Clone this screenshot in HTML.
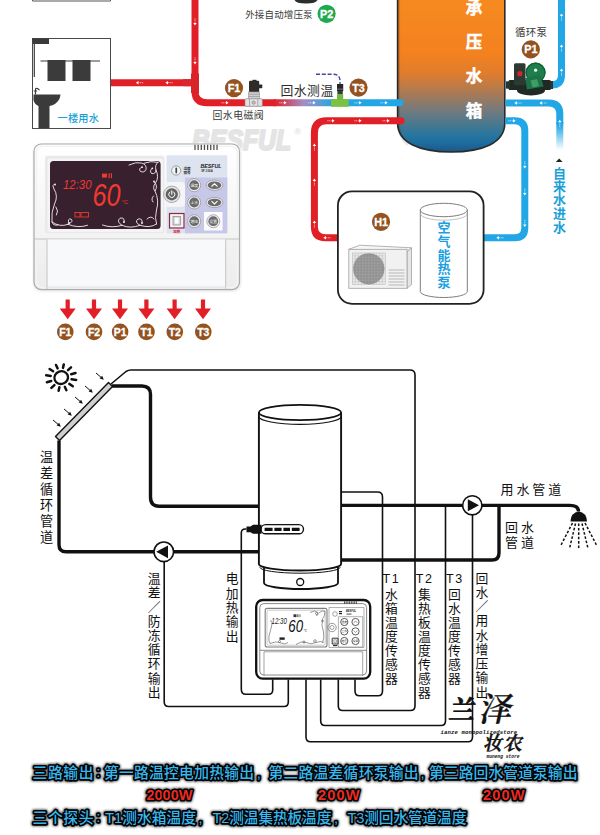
<!DOCTYPE html>
<html lang="zh-CN"><head><meta charset="utf-8"><title>太阳能控制器接线示意图</title>
<style>
html,body{margin:0;padding:0;background:#fff;}
body{width:600px;height:835px;overflow:hidden;font-family:"Liberation Sans","Noto Sans CJK SC",sans-serif;}
svg{display:block;}
svg text{font-family:"Liberation Sans","Noto Sans CJK SC",sans-serif;}
.serif{font-family:"Liberation Serif","Noto Serif CJK SC",serif;}
svg text.lcd{font-family:"Liberation Sans",sans-serif;}
</style></head><body>
<svg width="600" height="835" viewBox="0 0 600 835">
<defs>
<linearGradient id="tankG" gradientUnits="userSpaceOnUse" x1="0" y1="0" x2="0" y2="152">
<stop offset="0.000" stop-color="#f68a1f"/><stop offset="0.362" stop-color="#f3811f"/><stop offset="0.493" stop-color="#dd7c2f"/><stop offset="0.625" stop-color="#a47a5a"/><stop offset="0.737" stop-color="#6e7a80"/><stop offset="0.822" stop-color="#47788f"/><stop offset="0.888" stop-color="#27769f"/><stop offset="0.941" stop-color="#1e6c9f"/><stop offset="1.000" stop-color="#1d5684"/>
</linearGradient>
<linearGradient id="rbG" gradientUnits="userSpaceOnUse" x1="274" y1="0" x2="333" y2="0">
<stop offset="0" stop-color="#e11f26"/><stop offset="0.5" stop-color="#a58cc4"/><stop offset="1" stop-color="#22a7e6"/>
</linearGradient>
<linearGradient id="fadeG" gradientUnits="userSpaceOnUse" x1="0" y1="125" x2="0" y2="150">
<stop offset="0" stop-color="#22a7e6"/><stop offset="1" stop-color="#ffffff"/>
</linearGradient>
<linearGradient id="ctlG" x1="0" y1="0" x2="0" y2="1">
<stop offset="0" stop-color="#ffffff"/><stop offset="1" stop-color="#ececec"/>
</linearGradient>
<radialGradient id="btnG" cx="0.5" cy="0.4" r="0.6">
<stop offset="0" stop-color="#9a9a9a"/><stop offset="1" stop-color="#555"/>
</radialGradient>
<filter id="glow" x="-5%" y="-40%" width="110%" height="180%"><feGaussianBlur stdDeviation="0.9"/></filter>
</defs>
<rect width="600" height="835" fill="#fff"/>

<text x="192" y="149.6" font-size="29.5" font-weight="700" font-style="italic" fill="#e4e4e4" stroke="#e4e4e4" stroke-width="2.2" stroke-linejoin="round" textLength="99" lengthAdjust="spacingAndGlyphs">BESFUL</text>
<text x="294.2" y="134.8" font-size="9" font-weight="700" fill="#e2e2e2">®</text>
<path d="M32.5 0V1H110.5V0" stroke="#555" stroke-width="1" fill="none"/>
<path d="M397.6 -5V123C397.6 143 420 152 451.2 152C482.5 152 504.8 143 504.8 123V-5Z" fill="url(#tankG)" stroke="#2b2b2b" stroke-width="1.6"/>
<path d="M398.6 -5V123C398.6 134 402 140 408 144.5" fill="none" stroke="#000" stroke-opacity="0.10" stroke-width="3"/>
<g fill="none" stroke-width="7" stroke-linejoin="round">
<path d="M110 82.7H195" stroke="#e11f26"/>
<path d="M195 -2V91Q195 102.8 207 102.8H276" stroke="#e11f26"/>
<path d="M274 102.8H334" stroke="url(#rbG)"/>
<path d="M333 102.8H400" stroke="#22a7e6" stroke-linecap="round"/>
<path d="M401 120.8H326.5Q314.4 120.8 314.4 132.8V226.8Q314.4 237.8 325.4 237.8H338" stroke="#e11f26" stroke-linecap="round"/>
<path d="M561.5 -2V75Q561.5 85 551.5 85H505.6" stroke="#22a7e6"/>
<path d="M505.6 103H549Q559.8 103 559.8 114V124" stroke="#22a7e6"/>
<path d="M559.8 122V152" stroke="url(#fadeG)"/>
<path d="M505.6 120.8H514.8Q524.8 120.8 524.8 130.8V227.8Q524.8 237.8 514.8 237.8H484" stroke="#22a7e6"/>
</g>
<rect x="191" y="73.6" width="8" height="19.4" fill="#d9232b"/>
<rect x="183" y="79.2" width="8" height="7" fill="#dc262d"/>
<path d="M135.9 82.7L138.5 81.0V84.4Z" fill="#fff"/><path d="M143.1 82.7H138.70000000000002" stroke="#fff" stroke-width="0.8" stroke-dasharray="1.1 0.7" opacity="0.9" fill="none"/>
<path d="M165.4 82.7L168.0 81.0V84.4Z" fill="#fff"/><path d="M172.6 82.7H168.20000000000002" stroke="#fff" stroke-width="0.8" stroke-dasharray="1.1 0.7" opacity="0.9" fill="none"/>
<path d="M195 25.6L193.3 23.0H196.7Z" fill="#fff"/><path d="M195 18.4V22.8" stroke="#fff" stroke-width="0.8" stroke-dasharray="1.1 0.7" opacity="0.9" fill="none"/>
<path d="M195 64.6L193.3 61.99999999999999H196.7Z" fill="#fff"/><path d="M195 57.4V61.8" stroke="#fff" stroke-width="0.8" stroke-dasharray="1.1 0.7" opacity="0.9" fill="none"/>
<path d="M228.6 102.8L226.0 101.1V104.5Z" fill="#fff"/><path d="M221.4 102.8H225.79999999999998" stroke="#fff" stroke-width="0.8" stroke-dasharray="1.1 0.7" opacity="0.9" fill="none"/>
<path d="M286.6 102.8L284.0 101.1V104.5Z" fill="#fff"/><path d="M279.4 102.8H283.8" stroke="#fff" stroke-width="0.8" stroke-dasharray="1.1 0.7" opacity="0.9" fill="none"/>
<path d="M315.6 102.8L313.0 101.1V104.5Z" fill="#fff"/><path d="M308.4 102.8H312.8" stroke="#fff" stroke-width="0.8" stroke-dasharray="1.1 0.7" opacity="0.9" fill="none"/>
<path d="M361.6 102.8L359.0 101.1V104.5Z" fill="#fff"/><path d="M354.4 102.8H358.8" stroke="#fff" stroke-width="0.8" stroke-dasharray="1.1 0.7" opacity="0.9" fill="none"/>
<path d="M387.6 102.8L385.0 101.1V104.5Z" fill="#fff"/><path d="M380.4 102.8H384.8" stroke="#fff" stroke-width="0.8" stroke-dasharray="1.1 0.7" opacity="0.9" fill="none"/>
<path d="M334.6 120.8L332.0 119.1V122.5Z" fill="#fff"/><path d="M327.4 120.8H331.8" stroke="#fff" stroke-width="0.8" stroke-dasharray="1.1 0.7" opacity="0.9" fill="none"/>
<path d="M361.6 120.8L359.0 119.1V122.5Z" fill="#fff"/><path d="M354.4 120.8H358.8" stroke="#fff" stroke-width="0.8" stroke-dasharray="1.1 0.7" opacity="0.9" fill="none"/>
<path d="M389.6 120.8L387.0 119.1V122.5Z" fill="#fff"/><path d="M382.4 120.8H386.8" stroke="#fff" stroke-width="0.8" stroke-dasharray="1.1 0.7" opacity="0.9" fill="none"/>
<path d="M314.4 143.4L312.7 146.0H316.09999999999997Z" fill="#fff"/><path d="M314.4 150.6V146.20000000000002" stroke="#fff" stroke-width="0.8" stroke-dasharray="1.1 0.7" opacity="0.9" fill="none"/>
<path d="M314.4 178.4L312.7 181.0H316.09999999999997Z" fill="#fff"/><path d="M314.4 185.6V181.20000000000002" stroke="#fff" stroke-width="0.8" stroke-dasharray="1.1 0.7" opacity="0.9" fill="none"/>
<path d="M314.4 220.4L312.7 223.0H316.09999999999997Z" fill="#fff"/><path d="M314.4 227.6V223.20000000000002" stroke="#fff" stroke-width="0.8" stroke-dasharray="1.1 0.7" opacity="0.9" fill="none"/>
<path d="M323.4 237.8L326.0 236.10000000000002V239.5Z" fill="#fff"/><path d="M330.6 237.8H326.2" stroke="#fff" stroke-width="0.8" stroke-dasharray="1.1 0.7" opacity="0.9" fill="none"/>
<path d="M561.5 13.4L559.8 16.0H563.2Z" fill="#fff"/><path d="M561.5 20.6V16.2" stroke="#fff" stroke-width="0.8" stroke-dasharray="1.1 0.7" opacity="0.9" fill="none"/>
<path d="M561.5 44.4L559.8 47.0H563.2Z" fill="#fff"/><path d="M561.5 51.6V47.199999999999996" stroke="#fff" stroke-width="0.8" stroke-dasharray="1.1 0.7" opacity="0.9" fill="none"/>
<path d="M561.5 68.4L559.8 71.0H563.2Z" fill="#fff"/><path d="M561.5 75.6V71.2" stroke="#fff" stroke-width="0.8" stroke-dasharray="1.1 0.7" opacity="0.9" fill="none"/>
<path d="M514.4 103L517.0 101.3V104.7Z" fill="#fff"/><path d="M521.6 103H517.1999999999999" stroke="#fff" stroke-width="0.8" stroke-dasharray="1.1 0.7" opacity="0.9" fill="none"/>
<path d="M539.4 103L542.0 101.3V104.7Z" fill="#fff"/><path d="M546.6 103H542.1999999999999" stroke="#fff" stroke-width="0.8" stroke-dasharray="1.1 0.7" opacity="0.9" fill="none"/>
<path d="M559.8 119.7L558.0999999999999 122.3H561.5Z" fill="#fff"/><path d="M559.8 126.89999999999999V122.5" stroke="#fff" stroke-width="0.8" stroke-dasharray="1.1 0.7" opacity="0.9" fill="none"/>
<path d="M515.6 120.8L513.0 119.1V122.5Z" fill="#fff"/><path d="M508.4 120.8H512.8000000000001" stroke="#fff" stroke-width="0.8" stroke-dasharray="1.1 0.7" opacity="0.9" fill="none"/>
<path d="M524.8 168.6L523.0999999999999 166.0H526.5Z" fill="#fff"/><path d="M524.8 161.4V165.79999999999998" stroke="#fff" stroke-width="0.8" stroke-dasharray="1.1 0.7" opacity="0.9" fill="none"/>
<path d="M524.8 195.6L523.0999999999999 193.0H526.5Z" fill="#fff"/><path d="M524.8 188.4V192.79999999999998" stroke="#fff" stroke-width="0.8" stroke-dasharray="1.1 0.7" opacity="0.9" fill="none"/>
<path d="M524.8 227.1L523.0999999999999 224.5H526.5Z" fill="#fff"/><path d="M524.8 219.9V224.29999999999998" stroke="#fff" stroke-width="0.8" stroke-dasharray="1.1 0.7" opacity="0.9" fill="none"/>
<path d="M496.4 237.8L499.0 236.10000000000002V239.5Z" fill="#fff"/><path d="M503.6 237.8H499.2" stroke="#fff" stroke-width="0.8" stroke-dasharray="1.1 0.7" opacity="0.9" fill="none"/>
<text font-size="16.5" fill="#fff" font-weight="700" text-anchor="middle" stroke="#fff" stroke-width="0.5"><tspan x="474" y="14.3">承</tspan><tspan x="474" y="48.4">压</tspan><tspan x="474" y="82">水</tspan><tspan x="474" y="117.3">箱</tspan></text>
<g>
<rect x="32.5" y="38.5" width="78" height="90" fill="#fff" stroke="#4a4a4a" stroke-width="1"/>
<rect x="32.5" y="38.5" width="16.5" height="5.5" fill="#3b3b3b"/>
<path d="M34.3 44V77" stroke="#3b3b3b" stroke-width="1.2"/>
<path d="M40.5 61H100" stroke="#3b3b3b" stroke-width="1.2"/>
<rect x="47.5" y="60" width="18" height="21" fill="#3b3b3b"/>
<rect x="72.5" y="60" width="18" height="21" fill="#3b3b3b"/>
<path d="M33.5 94.5H60.5C60 101 55 105 49.5 106V128H38.5V106C36 105 34 103 33.5 100Z" fill="#3b3b3b"/>
<path d="M35.5 94.5V89.5Q35.5 88 37.5 88.5L39.5 90" stroke="#3b3b3b" stroke-width="1.2" fill="none"/>
<path d="M33.8 91H37" stroke="#3b3b3b" stroke-width="1"/>
<text x="57.5" y="121.6" font-size="10.2" font-weight="500" fill="#1b9fd8" letter-spacing="0.2">一楼用水</text>
</g>
<path d="M294.5 0Q296 3.6 306 3.6Q316 3.6 317.5 0Z" fill="#2a2f2c"/>
<text x="245.2" y="17.7" font-size="9.5" fill="#3a3a3a" letter-spacing="0.15">外接自动增压泵</text>
<circle cx="326.6" cy="13.8" r="9.1" fill="#1fa84c"/>
<text x="326.6" y="17.7" font-size="10.8" font-weight="700" fill="#fff" stroke="#fff" stroke-width="0.3" text-anchor="middle" letter-spacing="-0.1">P2</text>
<circle cx="234" cy="88.1" r="9.1" fill="#93521f"/>
<text x="234" y="92.0" font-size="10.8" font-weight="700" fill="#fff" stroke="#fff" stroke-width="0.3" text-anchor="middle" letter-spacing="-0.1">F1</text>
<g>
<rect x="249" y="80.7" width="10.2" height="11.5" rx="1.3" fill="#2f2b29"/>
<rect x="252.5" y="79.8" width="4" height="2" fill="#2f2b29"/>
<rect x="258.5" y="84.6" width="3.8" height="3.6" rx="0.6" fill="#2f2b29"/>
<rect x="248.3" y="92" width="11.4" height="7" fill="#cfcfcf" stroke="#9a9a9a" stroke-width="0.6"/>
<path d="M248.5 94.3H259.5M248.5 96.5H259.5" stroke="#8c8c8c" stroke-width="0.6"/>
<rect x="245" y="98.7" width="17.3" height="7.6" rx="1" fill="#e2e2e2" stroke="#8f8f8f" stroke-width="0.7"/>
<path d="M249.5 99V106M257.8 99V106" stroke="#8f8f8f" stroke-width="0.7"/>
<circle cx="253.6" cy="102.6" r="1.7" fill="#bdbdbd" stroke="#777" stroke-width="0.5"/>
</g>
<text x="212.5" y="119.1" font-size="9.9" fill="#3a3a3a" letter-spacing="0.45">回水电磁阀</text>
<text x="280.5" y="94.6" font-size="12.8" fill="#2a2a2a" letter-spacing="0.5">回水测温</text>
<path d="M316 74.2H333Q340 74.2 340 81V84" stroke="#4d429c" stroke-width="1.4" stroke-dasharray="4 1.8" fill="none"/>
<rect x="337" y="84" width="6.2" height="7" fill="#262626"/><rect x="337" y="88.6" width="6.2" height="1" fill="#777"/>
<rect x="337.4" y="91" width="5.4" height="3.6" fill="#3a3a3a"/>
<path d="M331 99.2H348.7V106.8H331Z" fill="#7cc142"/>
<rect x="337" y="94.4" width="6.2" height="5.2" fill="#72ba3a"/>
<circle cx="358.5" cy="87.6" r="9.1" fill="#93521f"/>
<text x="358.5" y="91.5" font-size="10.8" font-weight="700" fill="#fff" stroke="#fff" stroke-width="0.3" text-anchor="middle" letter-spacing="-0.1">T3</text>
<text x="515" y="35.6" font-size="10.5" fill="#3a3a3a" letter-spacing="0.2">循环泵</text>
<circle cx="530.8" cy="49.4" r="9.1" fill="#93521f"/>
<text x="530.8" y="53.3" font-size="10.8" font-weight="700" fill="#fff" stroke="#fff" stroke-width="0.3" text-anchor="middle" letter-spacing="-0.1">P1</text>
<g>
<rect x="508.5" y="80" width="42.5" height="10" rx="1.5" fill="#1f2a25"/>
<rect x="506" y="81.5" width="4" height="7" fill="#2a332e"/><rect x="550" y="81" width="3" height="8" fill="#2a332e"/>
<ellipse cx="531" cy="90.5" rx="14" ry="5" fill="#1f2a25"/>
<rect x="514" y="63.2" width="11.5" height="22" rx="1.5" fill="#2c3a33"/>
<circle cx="535.6" cy="72.6" r="10" fill="#1f7f4c"/>
<circle cx="535.6" cy="72.6" r="9.4" fill="none" stroke="#14603a" stroke-width="1.2"/>
<path d="M525 78L540 74.5L543.5 86.5L527 89.5Z" fill="#1c7446"/>
<path d="M530.5 80.5L537 79L539 86L532.5 87.5Z" fill="#3f9b68"/>
<circle cx="535.6" cy="70.2" r="1.6" fill="#eef4ee"/>
<circle cx="519.8" cy="73.7" r="2.6" fill="#d5252c"/>
</g>
<path d="M555.8 161.9L559.2 158.6L562.6 161.9Z" fill="#222"/>
<text font-size="13" fill="#1b9fd8" font-weight="700" text-anchor="middle" ><tspan x="559.6" y="178.2">自</tspan><tspan x="559.6" y="191">来</tspan><tspan x="559.6" y="203.8">水</tspan><tspan x="559.6" y="217.6">进</tspan><tspan x="559.6" y="232">水</tspan></text>
<rect x="337.9" y="191.4" width="145.7" height="112.4" rx="14" fill="#fff" stroke="#222" stroke-width="1.8"/>
<circle cx="381" cy="221.8" r="9.1" fill="#93521f"/>
<text x="381" y="225.7" font-size="10.8" font-weight="700" fill="#fff" stroke="#fff" stroke-width="0.3" text-anchor="middle" letter-spacing="-0.1">H1</text>
<g stroke="#a2a2a2" stroke-width="0.8" fill="#fff">
<path d="M348.8 249.3L359.8 245.2L411.5 247.8L407 251.8Z" fill="#f6f6f6"/>
<path d="M407 251.8L411.5 247.8V284.5L407 288.3Z" fill="#e6e6e6"/>
<rect x="348.8" y="249.3" width="58.2" height="39" fill="#f1f1f1"/>
<rect x="352.3" y="253" width="33" height="31.5" fill="#e9e9e9" stroke="#b5b5b5" stroke-width="0.5"/>
</g>
<g stroke="#b9b9b9" stroke-width="0.45">
<path d="M355.3 253V284.5"/>
<path d="M358.3 253V284.5"/>
<path d="M361.3 253V284.5"/>
<path d="M364.3 253V284.5"/>
<path d="M367.3 253V284.5"/>
<path d="M370.3 253V284.5"/>
<path d="M373.3 253V284.5"/>
<path d="M376.3 253V284.5"/>
<path d="M379.3 253V284.5"/>
<path d="M382.3 253V284.5"/>
<path d="M352.3 255.9H385.3"/>
<path d="M352.3 258.7H385.3"/>
<path d="M352.3 261.6H385.3"/>
<path d="M352.3 264.4H385.3"/>
<path d="M352.3 267.3H385.3"/>
<path d="M352.3 270.2H385.3"/>
<path d="M352.3 273.0H385.3"/>
<path d="M352.3 275.9H385.3"/>
<path d="M352.3 278.7H385.3"/>
<path d="M352.3 281.6H385.3"/>
</g>
<circle cx="368.8" cy="268.8" r="15.6" fill="#8b8b8b" opacity="0.92"/>
<g stroke="#a9a9a9" stroke-width="0.45">
<path d="M356.8 258.8V278.8"/>
<path d="M358.2 257.4H379.4"/>
<path d="M359.8 256.1V281.5"/>
<path d="M355.8 260.2H381.8"/>
<path d="M362.8 254.4V283.2"/>
<path d="M354.3 263.1H383.3"/>
<path d="M365.8 253.5V284.1"/>
<path d="M353.5 265.9H384.1"/>
<path d="M368.8 253.2V284.4"/>
<path d="M353.2 268.8H384.4"/>
<path d="M371.8 253.5V284.1"/>
<path d="M353.5 271.7H384.1"/>
<path d="M374.8 254.4V283.2"/>
<path d="M354.3 274.5H383.3"/>
<path d="M377.8 256.1V281.5"/>
<path d="M355.8 277.4H381.8"/>
<path d="M380.8 258.8V278.8"/>
<path d="M358.2 280.2H379.4"/>
</g>
<g stroke="#9d9d9d" stroke-width="0.7">
<path d="M388.5 270H404.5"/>
<path d="M388.5 273H404.5"/>
<path d="M388.5 276H404.5"/>
<path d="M388.5 279H404.5"/>
<path d="M388.5 282H404.5"/>
<path d="M388.5 285H404.5"/>
</g>
<path d="M420.3 210V291.5A23.5 6 0 0 0 467.3 291.5V210" fill="#fff" stroke="#7d7d7d" stroke-width="1"/>
<ellipse cx="443.8" cy="210" rx="23.5" ry="6.7" fill="#fff" stroke="#7d7d7d" stroke-width="1"/>
<path d="M420.3 213.5A23.5 6.7 0 0 0 467.3 213.5" fill="none" stroke="#a5a5a5" stroke-width="0.7"/>
<text font-size="13" fill="#1a9fe0" font-weight="700" text-anchor="middle" ><tspan x="443.9" y="232.2">空</tspan><tspan x="443.9" y="246">气</tspan><tspan x="443.9" y="259.8">能</tspan><tspan x="443.9" y="273.4">热</tspan><tspan x="443.9" y="287.4">泵</tspan></text>
<g>
<rect x="32.5" y="143" width="209.5" height="149.5" rx="9" fill="#f0f0f0" opacity="0.8"/><rect x="34" y="144" width="205.5" height="145.7" rx="7.5" fill="url(#ctlG)" stroke="#ababab" stroke-width="1.2"/>
<rect x="36.3" y="146.3" width="201" height="141.2" rx="6" fill="none" stroke="#f1f3f5" stroke-width="1.6"/>
<path d="M34.5 239H239" stroke="#c4c4c4" stroke-width="1"/>
<path d="M47 239.5V283.5Q47 287 50.5 287H225.7V239.5Z" fill="#f7f9fa" stroke="none"/><path d="M47 239.5V289M225.7 239.5V289.5" stroke="#bdbdbd" stroke-width="0.9" fill="none"/><path d="M47.5 287H225.5" stroke="#e2e2e2" stroke-width="1"/>
<g stroke="#4a4a4a" stroke-width="1.25">
<path d="M195.00 144.8V150"/>
<path d="M198.15 144.8V150"/>
<path d="M201.30 144.8V150"/>
<path d="M204.45 144.8V150"/>
<path d="M207.60 144.8V150"/>
<path d="M210.75 144.8V150"/>
<path d="M213.90 144.8V150"/>
<path d="M217.05 144.8V150"/>
</g>
<rect x="45" y="155.7" width="119.5" height="77.6" rx="2.5" fill="#e9e9e9"/><rect x="47.5" y="158.5" width="115.5" height="73.5" rx="3" fill="#f4f4f4"/>
<rect x="50" y="161" width="110.6" height="68" rx="3.5" fill="#38202e"/>
<g fill="none" stroke="#f3edf1" stroke-width="0.9" stroke-linecap="round">
<path d="M129 165Q136 161.5 141.5 163Q147 164.5 146 169.5Q144.5 173 140.5 171.5Q138 168.5 142 167.2"/>
<path d="M144 163.2Q151 160.5 158 162.3"/>
<path d="M158 162.3Q154.5 165 156 170Q155.5 174.5 151.5 173.5Q149 170.5 152.3 168.3"/>
<path d="M156 170Q159.5 177 155.5 183Q152 187.5 155 191Q158.5 186 154 181.5"/>
<path d="M155 191Q159.5 200 156.5 210Q154.5 218 156.5 224"/>
<path d="M153.5 196Q150.5 199 153 202"/>
<path d="M156.5 224Q150 228.5 140 225.3Q134 222 138 219Q143 218 142 223"/>
<path d="M140 225.3Q130 229 122 225.3Q116 221.5 120 218.2Q125 217 124 222"/>
<path d="M122 225.3Q112 228.5 102.5 225"/>
<path d="M147 219Q151 215 154 219"/>
<path d="M55 184.5Q51.5 184 54 189Q58.5 196 54.5 204Q51 212 52 222Q53 226 58 225"/>
<path d="M52 222Q60 227.5 68 224.3Q74 221.5 71 219Q67 218.5 69 223"/>
<path d="M68 224.3Q78 228.5 87.5 225.3"/>
<path d="M56 207Q59 211 56.5 215"/>
</g>
<g fill="#f3edf1"><circle cx="142" cy="167.2" r="0.9"/><circle cx="152.3" cy="168.3" r="0.9"/><circle cx="154" cy="181.5" r="0.9"/><circle cx="142" cy="223" r="0.9"/><circle cx="124" cy="222" r="0.9"/><circle cx="69" cy="223" r="0.9"/><circle cx="55" cy="184.5" r="0.9"/></g>
<text x="63" y="189" font-size="13.6" fill="#ee3a30" class="lcd" font-style="italic" textLength="28.5" lengthAdjust="spacingAndGlyphs">12:30</text>
<text x="92.5" y="206.4" font-size="32" fill="#ee3a30" class="lcd" font-style="italic" textLength="28" lengthAdjust="spacingAndGlyphs">60</text>
<text x="121.8" y="204" font-size="5.6" fill="#ee3a30">°C</text>
<rect x="102" y="173.6" width="5" height="4" fill="#ee3a30"/><rect x="108.5" y="173.2" width="1.2" height="5" fill="#ee3a30"/><rect x="110.8" y="173.2" width="1.2" height="5" fill="#ee3a30"/>
<rect x="75" y="212.5" width="5" height="4.5" fill="none" stroke="#ee3a30" stroke-width="0.9"/><rect x="81" y="212.5" width="7.5" height="4.5" fill="none" stroke="#ee3a30" stroke-width="0.9"/>
<rect x="166.5" y="155.3" width="60.8" height="78" fill="#dde4f0"/>
<rect x="185" y="177.5" width="42.3" height="55.8" fill="#c7c8e8"/>
<rect x="204" y="212" width="18.5" height="18.5" fill="#fbfbfd"/>
<path d="M166.5 182H181Q185 182 185 186V203Q185 207 181 207H166.5Z" fill="#f5f5f7"/>
<circle cx="171.8" cy="194.3" r="8.2" fill="#e3e3e3" stroke="#9a9a9a" stroke-width="0.8"/>
<circle cx="171.8" cy="194.3" r="6.1" fill="#626262"/>
<path d="M171.8 190.8V194.2" stroke="#fff" stroke-width="1.1" stroke-linecap="round"/>
<path d="M169.8 192A3.1 3.1 0 1 0 173.8 192" stroke="#fff" stroke-width="1" fill="none" stroke-linecap="round"/>
<circle cx="176.2" cy="170.5" r="4.6" fill="#f4f4f4" stroke="#8a8a8a" stroke-width="0.8"/>
<rect x="175.4" y="167.6" width="1.7" height="5.8" rx="0.8" fill="#444"/>
<text x="183.5" y="170.2" font-size="3.6" font-weight="700" fill="#333">温度</text>
<text x="183.5" y="174.4" font-size="3.6" font-weight="700" fill="#333">锁号</text>
<text x="200.5" y="167.6" font-size="4.6" font-weight="700" font-style="italic" fill="#222" textLength="21" lengthAdjust="spacingAndGlyphs">BESFUL</text>
<text x="201.2" y="171.7" font-size="2.9" font-weight="700" fill="#333">SF-106A</text>
<circle cx="194.2" cy="185.2" r="6.5" fill="#efeff3" stroke="#8d8d95" stroke-width="0.7"/>
<circle cx="194.2" cy="185.2" r="4.9" fill="#6a6a6a"/>
<text x="194.2" y="186.5" font-size="3.8" fill="#fff" text-anchor="middle">温度</text>
<ellipse cx="214.5" cy="185.2" rx="8.4" ry="5.1" fill="#efeff3" stroke="#8d8d95" stroke-width="0.7"/>
<ellipse cx="214.5" cy="185.2" rx="6.8" ry="3.8" fill="#6a6a6a"/>
<path d="M211.5 186.5L214.5 183.79999999999998L217.5 186.5" stroke="#fff" stroke-width="1.1" fill="none"/>
<circle cx="194.2" cy="202.5" r="6.5" fill="#efeff3" stroke="#8d8d95" stroke-width="0.7"/>
<circle cx="194.2" cy="202.5" r="4.9" fill="#6a6a6a"/>
<text x="194.2" y="203.8" font-size="3.8" fill="#fff" text-anchor="middle">上水</text>
<ellipse cx="214.5" cy="202.5" rx="8.4" ry="5.1" fill="#efeff3" stroke="#8d8d95" stroke-width="0.7"/>
<ellipse cx="214.5" cy="202.5" rx="6.8" ry="3.8" fill="#6a6a6a"/>
<path d="M211.5 201.2L214.5 203.9L217.5 201.2" stroke="#fff" stroke-width="1.1" fill="none"/>
<circle cx="194.2" cy="221.2" r="6.5" fill="#efeff3" stroke="#8d8d95" stroke-width="0.7"/>
<circle cx="194.2" cy="221.2" r="4.9" fill="#6a6a6a"/>
<text x="194.2" y="222.5" font-size="3.8" fill="#fff" text-anchor="middle">增压</text>
<circle cx="213.3" cy="221.2" r="6.5" fill="#efeff3" stroke="#8d8d95" stroke-width="0.7"/>
<circle cx="213.3" cy="221.2" r="4.9" fill="#6a6a6a"/>
<text x="213.3" y="222.5" font-size="3.8" fill="#fff" text-anchor="middle">设置</text>
<rect x="169.5" y="213.5" width="14.5" height="14.5" fill="#f3f3f3" stroke="#8c2748" stroke-width="1.2"/>
<rect x="173" y="216.5" width="7.5" height="8.5" fill="#d9d9d9" stroke="#777" stroke-width="0.6"/>
<rect x="175" y="218" width="3.5" height="5.5" fill="#fff"/>
<text x="176.8" y="233.2" font-size="3.6" font-weight="700" fill="#d02030" text-anchor="middle">加热</text>
</g>
<path d="M65.60000000000001 299.6H69.8V308.6H75.7L67.7 319.3L59.7 308.6H65.60000000000001Z" fill="#e21f26"/>
<circle cx="65.3" cy="331.9" r="8.3" fill="#93521f"/>
<text x="65.3" y="335.6" font-size="10.4" font-weight="700" fill="#fff" stroke="#fff" stroke-width="0.3" text-anchor="middle" letter-spacing="-0.1">F1</text>
<path d="M91.9 299.6H96.1V308.6H102L94 319.3L86 308.6H91.9Z" fill="#e21f26"/>
<circle cx="94" cy="331.9" r="8.3" fill="#93521f"/>
<text x="94" y="335.6" font-size="10.4" font-weight="700" fill="#fff" stroke="#fff" stroke-width="0.3" text-anchor="middle" letter-spacing="-0.1">F2</text>
<path d="M117.9 299.6H122.1V308.6H128L120 319.3L112 308.6H117.9Z" fill="#e21f26"/>
<circle cx="120.1" cy="331.9" r="8.3" fill="#93521f"/>
<text x="120.1" y="335.6" font-size="10.4" font-weight="700" fill="#fff" stroke="#fff" stroke-width="0.3" text-anchor="middle" letter-spacing="-0.1">P1</text>
<path d="M144.3 299.6H148.5V308.6H154.4L146.4 319.3L138.4 308.6H144.3Z" fill="#e21f26"/>
<circle cx="146.5" cy="331.9" r="8.3" fill="#93521f"/>
<text x="146.5" y="335.6" font-size="10.4" font-weight="700" fill="#fff" stroke="#fff" stroke-width="0.3" text-anchor="middle" letter-spacing="-0.1">T1</text>
<path d="M172.5 299.6H176.7V308.6H182.6L174.6 319.3L166.6 308.6H172.5Z" fill="#e21f26"/>
<circle cx="174.8" cy="331.9" r="8.3" fill="#93521f"/>
<text x="174.8" y="335.6" font-size="10.4" font-weight="700" fill="#fff" stroke="#fff" stroke-width="0.3" text-anchor="middle" letter-spacing="-0.1">T2</text>
<path d="M200.9 299.6H205.1V308.6H211L203 319.3L195 308.6H200.9Z" fill="#e21f26"/>
<circle cx="203.3" cy="331.9" r="8.3" fill="#93521f"/>
<text x="203.3" y="335.6" font-size="10.4" font-weight="700" fill="#fff" stroke="#fff" stroke-width="0.3" text-anchor="middle" letter-spacing="-0.1">T3</text>
<g fill="none" stroke="#111" stroke-linejoin="round">
<ellipse cx="61.2" cy="377.6" rx="6.9" ry="6.3" stroke-width="2.3" transform="rotate(-20 61.2 377.6)"/>
<path d="M71.6 379.3L76.2 379.9M69.3 383.9L72.8 386.2M64.8 386.8L66.4 390.2M59.4 387.3L58.6 390.8M54.4 385.1L51.4 387.9M51.2 381.0L46.9 382.2M50.8 375.9L46.2 375.3M53.1 371.3L49.6 369.0M57.6 368.4L56.0 365.0M63.0 367.9L63.8 364.4M68.0 370.1L71.0 367.3M71.2 374.2L75.5 373.0" stroke-width="2.5" stroke-linecap="round"/>
<path d="M96 373L103 379" stroke-width="1"/>
<path d="M103.8 379.8L99.6 378.6L102.2 375.8Z" fill="#111" stroke="none"/>
<path d="M85 386L92 392" stroke-width="1"/>
<path d="M92.8 392.8L88.6 391.6L91.2 388.8Z" fill="#111" stroke="none"/>
<path d="M75 397L82 403" stroke-width="1"/>
<path d="M82.8 403.8L78.6 402.6L81.2 399.8Z" fill="#111" stroke="none"/>
<path d="M64 409L71 415" stroke-width="1"/>
<path d="M71.8 415.8L67.6 414.6L70.2 411.8Z" fill="#111" stroke="none"/>
<path d="M53 420L60 426" stroke-width="1"/>
<path d="M60.8 426.8L56.6 425.6L59.2 422.8Z" fill="#111" stroke="none"/>
<path d="M55.5 436.5L108.5 382.5L112.5 386.5L59.5 440.5Z" fill="#cfcfcf" stroke-width="1.4"/>
<path d="M111 384L126 371.5Q128.5 370 131 370H410Q415 370 415 375V706Q415 710.5 410.5 710.5H342.5Q338.3 710.5 338.3 706V679.5" stroke-width="1.6"/>
<g stroke-width="3.4">
<path d="M112 386H142Q150.5 386 150.5 394.5V497Q150.5 506.2 159 506.2H259"/>
<path d="M59 440.5V544.8Q59 551.8 66 551.8H154.5"/>
<path d="M174 551.8H259"/>
<path d="M341 505.4H462.5"/>
<path d="M482 505.4H570Q578.5 505.4 578.5 511.5"/>
<path d="M341 560H492Q499 560 499 553V505.4"/>
</g>
<circle cx="163.8" cy="551.8" r="9.8" stroke-width="1.6" fill="#fff"/>
<path d="M156.2 551.8L168 545.4V558.2Z" fill="#111" stroke="none"/>
<circle cx="472.3" cy="505.3" r="9.6" stroke-width="1.6" fill="#fff"/>
<path d="M479 505.3L467.8 499.3V511.3Z" fill="#111" stroke="none"/>
<g stroke-width="1.6">
<path d="M164.2 561.5V702Q164.2 706.5 168.7 706.5H284Q288.3 706.5 288.3 702V679.5"/>
<path d="M246.5 529H245.3Q241.3 529 241.3 533V689Q241.3 694.3 245.8 694.3H268.5Q272.7 694.3 272.7 690V679.5"/>
<path d="M341 492H377.5Q382.5 492 382.5 497V691Q382.5 695.7 378 695.7H359.5Q355 695.7 355 691V679.5"/>
<path d="M445.5 505V721Q445.5 725.5 441 725.5H325Q320.7 725.5 320.7 721V679.5"/>
<path d="M472.5 514.5V737Q472.5 741.7 468 741.7H310.5Q306 741.7 306 737V679.5"/>
</g>
<path d="M264 566V583A37 6 0 0 0 338 583V566" fill="#fff" stroke-width="1.8"/>
<path d="M258.9 412.5V564A41.1 6.5 0 0 0 341.1 564V412.5" fill="#fff" stroke-width="1.9"/>
<path d="M259.8 567.2A40.2 6 0 0 0 340.2 567.2" stroke-width="1"/>
<ellipse cx="300" cy="412.5" rx="41.1" ry="7.6" fill="#fff" stroke-width="1.8"/>
<path d="M258.9 416.5A41.1 7.8 0 0 0 341.1 416.5" stroke-width="1.2"/>
<circle cx="300.2" cy="582" r="3.5" stroke-width="1.3"/>
<rect x="261" y="524.6" width="42.5" height="9.2" rx="4.6" fill="#fff" stroke-width="1.4"/>
<path d="M264.6 529.3H272.6M274.4 529.3H281.6M283.4 529.3H290M291.8 529.3H299.6" stroke-width="3.2"/>
<path d="M246.5 526.4H250.5L253 524.8H261.5V533.8H253L250.5 532.2H246.5Z" fill="#111" stroke="none"/>
<path d="M570.5 521.5Q571 512.5 578.7 511.5Q586.5 512.5 587 521.5Z" fill="#111" stroke="none"/>
<g stroke-width="1.5" stroke-dasharray="2.6 1.8">
<path d="M572.5 523L560.5 546"/><path d="M575.5 523.5L569.5 548.5"/><path d="M578.7 523.5V549"/><path d="M582 523.5L588 548.5"/><path d="M585 523L597 546"/>
</g>
<rect x="256.2" y="600" width="114" height="78.6" rx="6.5" fill="#fff" stroke-width="2.3"/>
<g stroke="#7d7d7d">
<rect x="259.8" y="603.6" width="106.8" height="71.4" rx="4" stroke-width="0.9"/>
<path d="M260 650.3H366.5" stroke-width="0.9"/>
<path d="M264 651.8V676M362.7 651.8V676M264 651.8H362.7" stroke-width="0.7"/>
<rect x="265.2" y="608.4" width="61.8" height="38.6" rx="2" stroke-width="1.1"/>
<rect x="267" y="610.2" width="58.2" height="35" rx="1.5" stroke-width="0.6" stroke="#a5a5a5"/>
<rect x="329" y="607.5" width="35" height="40" stroke-width="0.6"/>
<rect x="338.4" y="616.7" width="24.3" height="30.3" stroke-width="0.6"/>
<circle cx="332" cy="627.5" r="4.2" stroke-width="0.8"/><circle cx="332" cy="627.5" r="2" stroke-width="0.7"/>
<circle cx="335" cy="614" r="2.3" stroke-width="0.7"/>
</g>
<path d="M344.5 601.4V603.8M346.2 601.4V603.8M347.9 601.4V603.8M349.6 601.4V603.8M351.3 601.4V603.8M353 601.4V603.8M354.7 601.4V603.8M356.4 601.4V603.8" stroke-width="0.9" stroke="#333"/>
<circle cx="344.3" cy="622" r="3.6" stroke-width="0.8" stroke="#333"/>
<circle cx="355.5" cy="622" r="3.6" stroke-width="0.8" stroke="#333"/>
<circle cx="344.3" cy="631.4" r="3.6" stroke-width="0.8" stroke="#333"/>
<circle cx="355.5" cy="631.4" r="3.6" stroke-width="0.8" stroke="#333"/>
<circle cx="344.3" cy="641" r="3.6" stroke-width="0.8" stroke="#333"/>
<circle cx="355.5" cy="641" r="3.6" stroke-width="0.8" stroke="#333"/>
<path d="M353.6 622.9L355.5 621L357.4 622.9M353.6 630.5L355.5 632.4L357.4 630.5" stroke-width="0.6" stroke="#555"/>
<rect x="332.2" y="638.2" width="5.8" height="5.8" stroke-width="1" stroke="#333"/>
<rect x="333.8" y="639.8" width="2.6" height="2.6" stroke-width="0.5" stroke="#555"/>
<path d="M333 645.6H337.4" stroke-width="1.2" stroke="#333"/>
<g stroke-width="0.6" stroke="#555">
<path d="M270 621Q272.5 620 272 624Q270.5 631 269 636Q268.3 641 270 643.5Q276 640.5 281 643Q285 645 288 642.5"/>
<path d="M296 644.5Q301 640.5 306 642.5Q311 645 316 642.5Q321 640.5 323.5 642.5"/>
<path d="M310 612.5Q315 609.5 318 612.5Q319 615.5 316 615.5"/><path d="M319 613Q322 609.5 325 611.5Q325 616 322.5 619Q321 626 323.5 632Q324.5 638 322.5 643"/>
<circle cx="279.5" cy="641.5" r="1"/><circle cx="304" cy="642" r="1.1"/><circle cx="315" cy="641" r="1.3"/><circle cx="316.5" cy="613.5" r="1"/><circle cx="322.5" cy="621" r="0.9"/>
</g>
</g>
<text x="271.5" y="624.4" font-size="8.8" fill="#222" class="lcd" font-style="italic" textLength="15.3" lengthAdjust="spacingAndGlyphs">12:30</text>
<text x="288.3" y="631.9" font-size="16.4" fill="#111" class="lcd" font-style="italic" textLength="14.8" lengthAdjust="spacingAndGlyphs">60</text>
<text x="303.4" y="631.6" font-size="3.6" fill="#111">℃</text>
<rect x="293.5" y="614.3" width="3" height="2.8" fill="#333"/><path d="M297.5 614.3V617.1M298.8 614.3V617.1M300.1 614.3V617.1" stroke="#333" stroke-width="0.6"/>
<rect x="279.5" y="637.4" width="5.2" height="2.4" fill="#222"/>
<text x="346" y="612.2" font-size="3.2" font-weight="700" font-style="italic" fill="#111" textLength="10" lengthAdjust="spacingAndGlyphs">BESFUL</text>
<rect x="339" y="611" width="3" height="1.2" fill="#222"/><rect x="339" y="613" width="3" height="1.2" fill="#222"/>
<rect x="346.5" y="613.6" width="5" height="0.9" fill="#333"/>
<text x="344.3" y="623" font-size="2.7" fill="#222" text-anchor="middle">温度</text>
<text x="344.3" y="632.4" font-size="2.7" fill="#222" text-anchor="middle">上水</text>
<text x="344.3" y="642" font-size="2.7" fill="#222" text-anchor="middle">增压</text>
<text x="355.5" y="642" font-size="2.7" fill="#222" text-anchor="middle">设置</text>
<text font-size="13.2" fill="#111" font-weight="400" text-anchor="middle" ><tspan x="46.7" y="461.5">温</tspan><tspan x="46.7" y="477.5">差</tspan><tspan x="46.7" y="493.5">循</tspan><tspan x="46.7" y="509.5">环</tspan><tspan x="46.7" y="525.5">管</tspan><tspan x="46.7" y="541.5">道</tspan></text>
<text font-size="12.8" fill="#111" font-weight="400" text-anchor="middle" ><tspan x="154.1" y="583.2">温</tspan><tspan x="154.1" y="597.4000000000001">差</tspan><tspan x="154.1" y="611.6">／</tspan><tspan x="154.1" y="625.8000000000001">防</tspan><tspan x="154.1" y="640.0">冻</tspan><tspan x="154.1" y="654.2">循</tspan><tspan x="154.1" y="668.4000000000001">环</tspan><tspan x="154.1" y="682.6">输</tspan><tspan x="154.1" y="696.8000000000001">出</tspan></text>
<text font-size="12.8" fill="#111" font-weight="400" text-anchor="middle" ><tspan x="232.2" y="583.4">电</tspan><tspan x="232.2" y="597.6999999999999">加</tspan><tspan x="232.2" y="612.0">热</tspan><tspan x="232.2" y="626.3">输</tspan><tspan x="232.2" y="640.6">出</tspan></text>
<text x="391.3" y="582.5" font-size="12.5" font-weight="400" fill="#111" text-anchor="middle" letter-spacing="1.5">T1</text>
<text font-size="12.8" fill="#111" font-weight="400" text-anchor="middle" ><tspan x="391.3" y="598.5">水</tspan><tspan x="391.3" y="612.6">箱</tspan><tspan x="391.3" y="626.7">温</tspan><tspan x="391.3" y="640.8">度</tspan><tspan x="391.3" y="654.9">传</tspan><tspan x="391.3" y="669.0">感</tspan><tspan x="391.3" y="683.1">器</tspan></text>
<text x="424.6" y="582.5" font-size="12.5" font-weight="400" fill="#111" text-anchor="middle" letter-spacing="1.5">T2</text>
<text font-size="12.8" fill="#111" font-weight="400" text-anchor="middle" ><tspan x="424.4" y="598.5">集</tspan><tspan x="424.4" y="612.6">热</tspan><tspan x="424.4" y="626.7">板</tspan><tspan x="424.4" y="640.8">温</tspan><tspan x="424.4" y="654.9">度</tspan><tspan x="424.4" y="669.0">传</tspan><tspan x="424.4" y="683.1">感</tspan><tspan x="424.4" y="697.2">器</tspan></text>
<text x="454.8" y="582.5" font-size="12.5" font-weight="400" fill="#111" text-anchor="middle" letter-spacing="1.5">T3</text>
<text font-size="12.8" fill="#111" font-weight="400" text-anchor="middle" ><tspan x="454.5" y="598.5">回</tspan><tspan x="454.5" y="612.6">水</tspan><tspan x="454.5" y="626.7">温</tspan><tspan x="454.5" y="640.8">度</tspan><tspan x="454.5" y="654.9">传</tspan><tspan x="454.5" y="669.0">感</tspan><tspan x="454.5" y="683.1">器</tspan></text>
<text font-size="12.8" fill="#111" font-weight="400" text-anchor="middle" ><tspan x="482" y="582.5">回</tspan><tspan x="482" y="596.75">水</tspan><tspan x="482" y="611.0">／</tspan><tspan x="482" y="625.25">用</tspan><tspan x="482" y="639.5">水</tspan><tspan x="482" y="653.75">增</tspan><tspan x="482" y="668.0">压</tspan><tspan x="482" y="682.25">输</tspan><tspan x="482" y="696.5">出</tspan></text>
<text x="500.5" y="494.3" font-size="13" font-weight="400" fill="#111" letter-spacing="2.9">用水管道</text>
<text x="505" y="532.3" font-size="13" font-weight="400" fill="#111" letter-spacing="3">回水</text>
<text x="505" y="546.6" font-size="13" font-weight="400" fill="#111" letter-spacing="3">管道</text>
<text transform="translate(448 719) skewX(-12)" font-size="26" font-weight="700" fill="#111" stroke="#111" stroke-width="0.7" style="font-family:'Liberation Serif','Noto Serif CJK SC',serif">兰</text>
<text transform="translate(478 721) skewX(-12)" font-size="33" font-weight="600" fill="#111" stroke="#111" stroke-width="0.3" style="font-family:'Liberation Serif','Noto Serif CJK SC',serif">泽</text>
<text x="440.5" y="734.2" font-size="5.6" font-weight="700" font-style="italic" letter-spacing="0.3" fill="#111" style="font-family:'Liberation Mono',monospace" textLength="77" lengthAdjust="spacing">ianze monopolizedstore</text>
<text transform="translate(483 749.5) skewX(-12)" font-size="19" font-weight="600" fill="#111" stroke="#111" stroke-width="0.4" style="font-family:'Liberation Serif','Noto Serif CJK SC',serif" letter-spacing="1">妆农</text>
<text x="486.5" y="758" font-size="4.6" font-weight="700" font-style="italic" fill="#111" style="font-family:'Liberation Mono',monospace" textLength="33" lengthAdjust="spacing">muneng store</text>
<g filter="url(#glow)" opacity="0.55">
<text x="32.5" y="777.6" font-size="14.8" font-weight="500" textLength="61.0" lengthAdjust="spacing" fill="#000" stroke="#000" stroke-width="5" stroke-linejoin="round">三路输出</text>
<text x="96.3" y="777.0" font-size="14.8" font-weight="500"  fill="#000" stroke="#000" stroke-width="5" stroke-linejoin="round">:</text>
<text x="104" y="777.6" font-size="14.8" font-weight="500" textLength="150" lengthAdjust="spacing" fill="#000" stroke="#000" stroke-width="5" stroke-linejoin="round">第一路温控电加热输出</text>
<text x="256.8" y="777.6" font-size="14.8" font-weight="500"  fill="#000" stroke="#000" stroke-width="5" stroke-linejoin="round">,</text>
<text x="268.5" y="777.6" font-size="14.8" font-weight="500" textLength="150.0" lengthAdjust="spacing" fill="#000" stroke="#000" stroke-width="5" stroke-linejoin="round">第二路温差循环泵输出</text>
<text x="420.5" y="777.6" font-size="14.8" font-weight="500"  fill="#000" stroke="#000" stroke-width="5" stroke-linejoin="round">,</text>
<text x="429" y="777.6" font-size="14.8" font-weight="500" textLength="148.5" lengthAdjust="spacing" fill="#000" stroke="#000" stroke-width="5" stroke-linejoin="round">第三路回水管道泵输出</text>
<text x="32.5" y="822.6" font-size="14.8" font-weight="500" textLength="61.0" lengthAdjust="spacing" fill="#000" stroke="#000" stroke-width="5" stroke-linejoin="round">三个探头</text>
<text x="96.3" y="822.0" font-size="14.8" font-weight="500"  fill="#000" stroke="#000" stroke-width="5" stroke-linejoin="round">:</text>
<text x="105" y="822.6" font-size="14.8" font-weight="500" textLength="91" lengthAdjust="spacing" fill="#000" stroke="#000" stroke-width="5" stroke-linejoin="round">T1测水箱温度</text>
<text x="198.5" y="822.6" font-size="14.8" font-weight="500"  fill="#000" stroke="#000" stroke-width="5" stroke-linejoin="round">,</text>
<text x="212.5" y="822.6" font-size="14.8" font-weight="500" textLength="119.0" lengthAdjust="spacing" fill="#000" stroke="#000" stroke-width="5" stroke-linejoin="round">T2测温集热板温度</text>
<text x="334" y="822.6" font-size="14.8" font-weight="500"  fill="#000" stroke="#000" stroke-width="5" stroke-linejoin="round">,</text>
<text x="347.5" y="822.6" font-size="14.8" font-weight="500" textLength="119.0" lengthAdjust="spacing" fill="#000" stroke="#000" stroke-width="5" stroke-linejoin="round">T3测回水管道温度</text>
</g>
<text x="32.5" y="777.6" font-size="14.8" font-weight="500" textLength="61.0" lengthAdjust="spacing" fill="#36b7ee" paint-order="stroke" stroke="#000" stroke-width="3.3" stroke-linejoin="round">三路输出</text>
<text x="96.3" y="777.0" font-size="14.8" font-weight="500"  fill="#36b7ee" paint-order="stroke" stroke="#000" stroke-width="3.3" stroke-linejoin="round">:</text>
<text x="104" y="777.6" font-size="14.8" font-weight="500" textLength="150" lengthAdjust="spacing" fill="#36b7ee" paint-order="stroke" stroke="#000" stroke-width="3.3" stroke-linejoin="round">第一路温控电加热输出</text>
<text x="256.8" y="777.6" font-size="14.8" font-weight="500"  fill="#36b7ee" paint-order="stroke" stroke="#000" stroke-width="3.3" stroke-linejoin="round">,</text>
<text x="268.5" y="777.6" font-size="14.8" font-weight="500" textLength="150.0" lengthAdjust="spacing" fill="#36b7ee" paint-order="stroke" stroke="#000" stroke-width="3.3" stroke-linejoin="round">第二路温差循环泵输出</text>
<text x="420.5" y="777.6" font-size="14.8" font-weight="500"  fill="#36b7ee" paint-order="stroke" stroke="#000" stroke-width="3.3" stroke-linejoin="round">,</text>
<text x="429" y="777.6" font-size="14.8" font-weight="500" textLength="148.5" lengthAdjust="spacing" fill="#36b7ee" paint-order="stroke" stroke="#000" stroke-width="3.3" stroke-linejoin="round">第三路回水管道泵输出</text>
<text x="32.5" y="822.6" font-size="14.8" font-weight="500" textLength="61.0" lengthAdjust="spacing" fill="#36b7ee" paint-order="stroke" stroke="#000" stroke-width="3.3" stroke-linejoin="round">三个探头</text>
<text x="96.3" y="822.0" font-size="14.8" font-weight="500"  fill="#36b7ee" paint-order="stroke" stroke="#000" stroke-width="3.3" stroke-linejoin="round">:</text>
<text x="105" y="822.6" font-size="14.8" font-weight="500" textLength="91" lengthAdjust="spacing" fill="#36b7ee" paint-order="stroke" stroke="#000" stroke-width="3.3" stroke-linejoin="round">T1测水箱温度</text>
<text x="198.5" y="822.6" font-size="14.8" font-weight="500"  fill="#36b7ee" paint-order="stroke" stroke="#000" stroke-width="3.3" stroke-linejoin="round">,</text>
<text x="212.5" y="822.6" font-size="14.8" font-weight="500" textLength="119.0" lengthAdjust="spacing" fill="#36b7ee" paint-order="stroke" stroke="#000" stroke-width="3.3" stroke-linejoin="round">T2测温集热板温度</text>
<text x="334" y="822.6" font-size="14.8" font-weight="500"  fill="#36b7ee" paint-order="stroke" stroke="#000" stroke-width="3.3" stroke-linejoin="round">,</text>
<text x="347.5" y="822.6" font-size="14.8" font-weight="500" textLength="119.0" lengthAdjust="spacing" fill="#36b7ee" paint-order="stroke" stroke="#000" stroke-width="3.3" stroke-linejoin="round">T3测回水管道温度</text>
<g filter="url(#glow)" opacity="0.55">
<text x="146.5" y="800" font-size="14.6" font-weight="700" textLength="46" lengthAdjust="spacing" fill="#000" stroke="#000" stroke-width="5" stroke-linejoin="round">2000W</text>
<text x="318" y="800" font-size="14.6" font-weight="700" textLength="41.5" lengthAdjust="spacing" fill="#000" stroke="#000" stroke-width="5" stroke-linejoin="round">200W</text>
<text x="483" y="800" font-size="14.6" font-weight="700" textLength="41.5" lengthAdjust="spacing" fill="#000" stroke="#000" stroke-width="5" stroke-linejoin="round">200W</text>
</g>
<text x="146.5" y="800" font-size="14.6" font-weight="700" textLength="46" lengthAdjust="spacing" fill="#ee2a24" paint-order="stroke" stroke="#000" stroke-width="3.2" stroke-linejoin="round">2000W</text>
<text x="318" y="800" font-size="14.6" font-weight="700" textLength="41.5" lengthAdjust="spacing" fill="#ee2a24" paint-order="stroke" stroke="#000" stroke-width="3.2" stroke-linejoin="round">200W</text>
<text x="483" y="800" font-size="14.6" font-weight="700" textLength="41.5" lengthAdjust="spacing" fill="#ee2a24" paint-order="stroke" stroke="#000" stroke-width="3.2" stroke-linejoin="round">200W</text>
</svg>
</body></html>
